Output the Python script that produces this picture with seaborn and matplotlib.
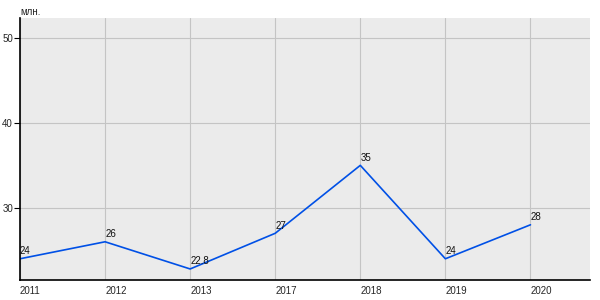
import matplotlib
matplotlib.use("Agg")
import matplotlib.pyplot as plt
import seaborn as sns
import pandas as pd

years = ["2011", "2012", "2013", "2017", "2018", "2019", "2020"]
values = [24, 26, 22.8, 27, 35, 24, 28]
value_labels = ["24", "26", "22.8", "27", "35", "24", "28"]
y_ticks = [30, 40, 50]
unit_label = "млн."

sns.set_theme(style="white")
plt.rcParams['font.family'] = ['Liberation Sans', 'DejaVu Sans']

df = pd.DataFrame({"year": years, "value": values})

fig = plt.figure(figsize=(6, 3), dpi=100)
ax = fig.add_axes([20/600, 1-280/300, 570/600, 262/300])
ax.set_facecolor("#ebebeb")

sns.lineplot(data=df, x="year", y="value", ax=ax, color="#0050e6", linewidth=1.2,
             sort=False)

for i, (v, lab) in enumerate(zip(values, value_labels)):
    ax.annotate(lab, (i, v), xytext=(0, 2), textcoords="offset points",
                ha="left", va="bottom", fontsize=7, color="#111111")

ax.set_xlim(0, 6.7)
ax.set_ylim(21.5, 52.35)
ax.set_yticks(y_ticks)
ax.set_xticks(range(len(years)))
ax.set_xticklabels(years, ha="left")
ax.grid(True, color="#c4c4c4", linewidth=0.8)
ax.set_axisbelow(True)
ax.set_xlabel("")
ax.set_ylabel("")

for s in ["top", "right"]:
    ax.spines[s].set_visible(False)
for s in ["left", "bottom"]:
    ax.spines[s].set_color("black")
    ax.spines[s].set_linewidth(1.2)

ax.tick_params(axis="y", which="both", left=True, length=4, width=0.8,
               color="black", labelsize=7, pad=1)
ax.tick_params(axis="x", which="both", bottom=False, length=0, labelsize=7, pad=4)

fig.text(20/600, 1-12/300, unit_label, fontsize=7, ha="left", va="center")

fig.savefig("out.png", dpi=100, facecolor="white")
